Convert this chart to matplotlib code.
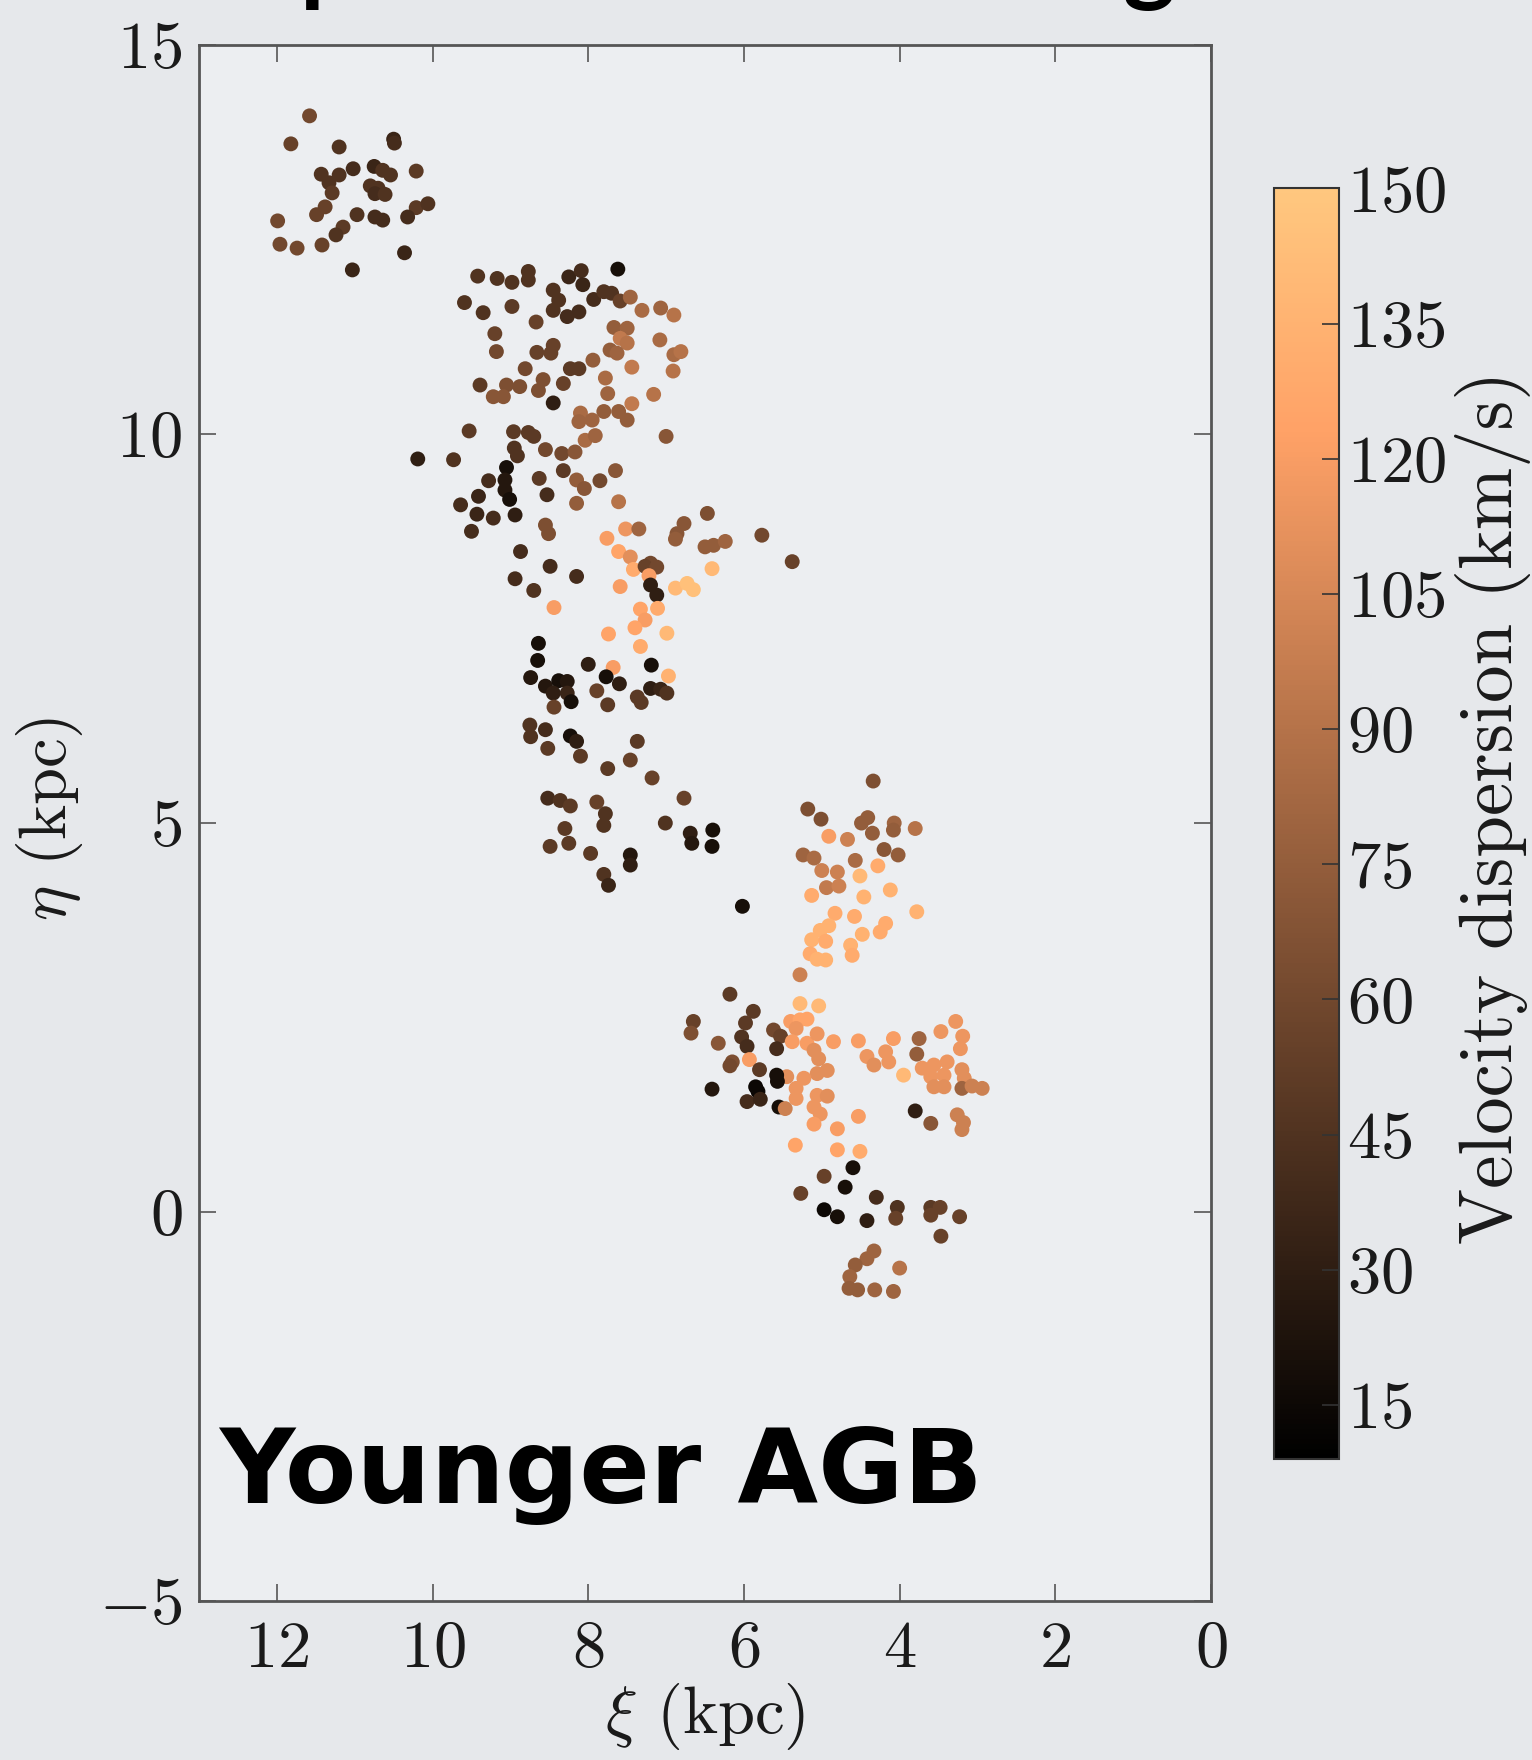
#!/usr/bin/env python
#
# Velocity dispersion map of the younger AGB population

import matplotlib
matplotlib.use('Agg')
import matplotlib.pyplot as plt
import numpy as np

# (xi, eta, sigma), one list per clump
clump_top = [
    (11.58, 14.09, 60), (11.82, 13.73, 55), (11.20, 13.69, 45), (10.50, 13.79, 35),
    (10.49, 13.74, 40), (10.21, 13.38, 50), (11.02, 13.41, 40), (11.43, 13.34, 45),
    (11.20, 13.33, 45), (11.33, 13.23, 45), (11.29, 13.10, 50), (10.75, 13.44, 35),
    (10.64, 13.39, 45), (10.54, 13.33, 45), (10.80, 13.19, 45), (10.70, 13.16, 45),
    (10.74, 13.09, 40), (10.61, 13.08, 45), (11.38, 12.92, 55), (11.49, 12.82, 55),
    (10.97, 12.82, 45), (10.74, 12.79, 40), (10.64, 12.75, 40), (10.21, 12.91, 50),
    (10.06, 12.96, 45), (10.32, 12.79, 40), (11.99, 12.74, 60), (11.15, 12.66, 50),
    (11.24, 12.56, 45), (11.96, 12.44, 60), (11.74, 12.39, 60), (11.42, 12.43, 55),
    (10.36, 12.33, 35), (11.03, 12.11, 35),
]

clump_upper = [
    (9.42, 12.03, 45), (9.17, 12.00, 45), (8.98, 11.95, 45), (8.77, 12.09, 45),
    (8.77, 11.98, 45), (8.25, 12.02, 35), (8.09, 12.10, 40), (7.62, 12.12, 20),
    (8.07, 11.92, 35), (8.45, 11.85, 45), (8.38, 11.72, 45), (8.45, 11.59, 45),
    (8.27, 11.51, 40), (8.12, 11.57, 40), (7.93, 11.73, 40), (7.80, 11.83, 45),
    (7.70, 11.81, 45), (7.59, 11.71, 55), (7.46, 11.76, 80), (7.31, 11.59, 85),
    (7.07, 11.62, 80), (6.90, 11.53, 90), (9.59, 11.69, 45), (9.35, 11.56, 45),
    (8.98, 11.64, 50), (8.67, 11.44, 55), (9.20, 11.29, 55), (9.18, 11.06, 60),
    (8.66, 11.05, 55), (8.45, 11.14, 55), (8.48, 11.04, 55), (7.67, 11.37, 75),
    (7.50, 11.36, 80), (7.59, 11.23, 95), (7.50, 11.17, 90), (7.72, 11.08, 75),
    (7.63, 11.04, 80), (7.08, 11.21, 85), (6.90, 11.02, 85), (6.81, 11.06, 90),
    (6.91, 10.81, 90), (7.94, 10.95, 75), (7.44, 10.86, 95), (8.81, 10.84, 60),
    (8.23, 10.84, 50), (8.12, 10.84, 50), (9.39, 10.63, 50), (9.05, 10.63, 65),
    (8.88, 10.61, 65), (9.22, 10.48, 70), (9.09, 10.48, 70), (8.58, 10.70, 65),
    (8.64, 10.56, 65), (8.32, 10.65, 55), (7.78, 10.72, 85), (7.75, 10.52, 80),
    (7.16, 10.51, 90), (7.44, 10.39, 95), (8.45, 10.40, 30), (8.10, 10.27, 85),
    (8.12, 10.16, 80), (7.95, 10.18, 80), (7.80, 10.29, 75), (7.61, 10.29, 75),
    (7.50, 10.18, 75), (9.53, 10.04, 50), (8.96, 10.03, 50), (8.77, 10.02, 50),
    (8.70, 9.97, 50), (8.04, 9.92, 85), (7.91, 9.98, 80), (7.00, 9.97, 70),
    (9.73, 9.67, 45), (10.19, 9.68, 30), (8.95, 9.82, 45), (8.91, 9.72, 45),
    (8.55, 9.80, 60), (8.34, 9.75, 60), (8.17, 9.77, 70), (9.05, 9.57, 20),
    (9.28, 9.40, 40), (9.07, 9.41, 25), (9.07, 9.28, 25), (9.01, 9.16, 20),
    (9.41, 9.20, 35), (9.64, 9.09, 40), (9.43, 8.97, 35), (9.22, 8.92, 40),
    (8.94, 8.96, 30), (9.50, 8.75, 40), (8.63, 9.43, 50), (8.32, 9.53, 50),
    (8.53, 9.22, 40), (8.15, 9.41, 75), (8.05, 9.30, 70), (7.85, 9.40, 60),
    (7.65, 9.53, 70), (8.15, 9.11, 75), (7.61, 9.13, 90), (8.55, 8.83, 65),
    (8.51, 8.72, 65), (8.87, 8.49, 40), (6.47, 8.98, 65), (6.77, 8.85, 70),
    (6.86, 8.72, 70), (6.88, 8.65, 75), (6.50, 8.55, 75), (6.39, 8.57, 75),
    (6.24, 8.62, 80), (5.77, 8.70, 60), (5.38, 8.36, 55), (7.76, 8.66, 120),
    (7.52, 8.78, 115), (7.35, 8.78, 80), (7.61, 8.49, 125), (7.46, 8.42, 110),
    (7.20, 8.34, 60), (6.41, 8.27, 140),
]

clump_middle = [
    (8.94, 8.14, 40), (8.70, 7.99, 45), (8.15, 8.17, 40), (8.49, 8.30, 40),
    (7.59, 8.04, 120), (7.42, 8.26, 130), (7.27, 8.30, 55), (7.12, 8.29, 60),
    (7.22, 8.18, 120), (7.20, 8.06, 30), (7.12, 7.93, 30), (6.88, 8.02, 140),
    (6.73, 8.08, 145), (6.65, 8.00, 145), (8.44, 7.77, 120), (7.33, 7.75, 125),
    (7.11, 7.76, 130), (7.27, 7.61, 120), (7.40, 7.51, 125), (7.74, 7.43, 125),
    (6.99, 7.44, 140), (7.33, 7.27, 130), (8.64, 7.31, 20), (8.65, 7.09, 20),
    (8.00, 7.04, 30), (7.68, 7.00, 120), (7.19, 7.03, 20), (6.97, 6.89, 135),
    (8.74, 6.87, 25), (8.55, 6.76, 25), (8.38, 6.83, 20), (8.27, 6.82, 25),
    (8.45, 6.67, 30), (8.27, 6.67, 35), (8.22, 6.56, 20), (8.44, 6.49, 55),
    (7.77, 6.88, 20), (7.60, 6.79, 30), (7.89, 6.70, 55), (7.75, 6.52, 50),
    (7.37, 6.62, 50), (7.32, 6.55, 50), (7.20, 6.73, 30), (7.07, 6.72, 35),
    (6.99, 6.67, 45), (8.75, 6.26, 45), (8.74, 6.11, 45), (8.55, 6.20, 40),
    (8.23, 6.12, 20), (8.15, 6.05, 30), (8.52, 5.96, 50), (8.10, 5.86, 50),
    (7.37, 6.05, 50), (7.75, 5.70, 50), (7.46, 5.81, 55), (7.18, 5.58, 55),
    (8.52, 5.32, 40), (8.36, 5.29, 45), (8.23, 5.22, 50), (7.89, 5.27, 55),
    (6.77, 5.32, 55), (7.78, 5.12, 45), (7.80, 4.97, 45), (8.49, 4.70, 50),
    (8.25, 4.74, 50), (8.30, 4.93, 50), (7.97, 4.61, 50), (7.46, 4.59, 25),
    (7.46, 4.46, 30), (7.80, 4.34, 45), (7.74, 4.20, 35), (7.01, 5.00, 45),
    (6.69, 4.87, 30), (6.67, 4.74, 25), (6.40, 4.91, 20), (6.41, 4.70, 20),
    (6.02, 3.93, 20),
]

clump_lower_north = [
    (4.34, 5.54, 65), (5.18, 5.18, 65), (5.01, 5.05, 65), (4.91, 4.83, 120),
    (4.67, 4.79, 100), (4.49, 5.00, 75), (4.41, 5.07, 75), (4.35, 4.87, 75),
    (4.07, 5.00, 80), (4.08, 4.91, 75), (3.80, 4.93, 90), (4.20, 4.66, 70),
    (4.02, 4.59, 75), (5.24, 4.59, 80), (5.10, 4.55, 85), (5.00, 4.39, 100),
    (4.80, 4.37, 100), (4.57, 4.52, 85), (4.28, 4.45, 130), (4.51, 4.32, 140),
    (4.94, 4.17, 95), (4.78, 4.19, 100), (5.13, 4.07, 130), (4.46, 4.05, 135),
    (4.12, 4.14, 135), (3.78, 3.86, 135), (4.83, 3.84, 130), (4.58, 3.80, 130),
    (4.18, 3.71, 130), (4.25, 3.60, 130), (4.48, 3.57, 135), (5.02, 3.62, 135),
    (4.91, 3.68, 135), (5.13, 3.50, 135), (4.95, 3.48, 130), (5.15, 3.32, 130),
    (4.63, 3.43, 135), (4.61, 3.30, 130), (5.06, 3.25, 135), (4.95, 3.24, 135),
    (5.28, 3.05, 100),
]

clump_lower_south = [
    (6.18, 2.80, 50), (5.28, 2.68, 140), (5.04, 2.65, 140), (5.88, 2.58, 50),
    (6.65, 2.45, 55), (6.68, 2.30, 65), (5.98, 2.43, 50), (6.03, 2.25, 45),
    (5.96, 2.13, 40), (6.33, 2.17, 70), (5.62, 2.34, 60), (5.53, 2.26, 55),
    (5.58, 2.10, 40), (5.40, 2.45, 120), (5.28, 2.47, 125), (5.19, 2.48, 125),
    (5.33, 2.36, 115), (5.38, 2.19, 120), (5.19, 2.17, 120), (5.06, 2.29, 115),
    (4.85, 2.19, 120), (5.10, 2.08, 110), (5.04, 1.97, 110), (4.93, 1.82, 110),
    (5.06, 1.78, 110), (5.23, 1.72, 115), (5.45, 1.74, 110), (5.33, 1.59, 115),
    (5.33, 1.46, 115), (5.06, 1.50, 115), (4.93, 1.49, 110), (5.10, 1.35, 115),
    (5.02, 1.26, 115), (5.10, 1.13, 120), (4.80, 1.07, 120), (4.53, 1.23, 120),
    (5.34, 0.86, 125), (4.80, 0.80, 125), (4.51, 0.78, 130), (5.93, 1.96, 120),
    (6.15, 1.93, 65), (6.18, 1.88, 60), (5.80, 1.83, 50), (5.58, 1.76, 20),
    (5.57, 1.68, 20), (6.41, 1.58, 25), (5.85, 1.61, 15), (5.82, 1.55, 15),
    (5.96, 1.42, 40), (5.79, 1.45, 35), (5.55, 1.35, 20), (5.47, 1.33, 100),
    (4.53, 2.20, 120), (4.08, 2.23, 120), (4.42, 2.00, 115), (4.33, 1.89, 110),
    (4.18, 2.06, 115), (4.14, 1.93, 115), (3.95, 1.76, 140), (3.75, 2.23, 80),
    (3.78, 2.03, 75), (3.47, 2.32, 115), (3.28, 2.45, 115), (3.19, 2.26, 115),
    (3.22, 2.10, 115), (3.71, 1.85, 115), (3.56, 1.89, 115), (3.39, 1.93, 115),
    (3.60, 1.74, 115), (3.43, 1.76, 115), (3.56, 1.61, 110), (3.43, 1.61, 110),
    (3.20, 1.83, 110), (3.17, 1.72, 110), (3.20, 1.59, 80), (3.07, 1.62, 100),
    (2.94, 1.59, 100), (3.80, 1.30, 30), (3.60, 1.14, 70), (3.26, 1.25, 100),
    (3.18, 1.15, 100), (3.20, 1.06, 100),
]

clump_tail = [
    (4.60, 0.57, 20), (4.97, 0.46, 55), (4.70, 0.32, 20), (5.27, 0.24, 55),
    (4.30, 0.19, 40), (4.97, 0.03, 15), (4.03, 0.06, 45), (3.60, 0.06, 50),
    (3.48, 0.06, 55), (4.80, -0.06, 20), (4.42, -0.11, 30), (4.05, -0.08, 55),
    (3.60, -0.04, 55), (3.23, -0.06, 55), (3.47, -0.31, 55), (4.33, -0.50, 80),
    (4.42, -0.60, 80), (4.57, -0.68, 75), (4.64, -0.83, 80), (4.65, -0.98, 75),
    (4.54, -1.00, 75), (4.32, -1.00, 80), (4.08, -1.02, 80), (4.00, -0.72, 90),
]

cbar_ticks = [15, 30, 45, 60, 75, 90, 105, 120, 135, 150]
xi_ticks = [12, 10, 8, 6, 4, 2, 0]
eta_ticks = [-5, 0, 5, 10, 15]
sigma_min, sigma_max = 9, 150

plt.rcParams['font.family'] = 'serif'
plt.rcParams['font.serif'] = ['cmr10', 'DejaVu Serif']
plt.rcParams['mathtext.fontset'] = 'cm'
plt.rcParams['axes.formatter.use_mathtext'] = True
plt.rcParams['axes.unicode_minus'] = True

bg = '#e6e8eb'
fig = plt.figure(figsize=(15.32, 17.6), dpi=100, facecolor=bg)
ax = fig.add_axes([0.1299, 0.0903, 0.6606, 0.8841])
ax.set_facecolor('#eceef1')

pts = np.array(clump_top + clump_upper + clump_middle + clump_lower_north
               + clump_lower_south + clump_tail)
sc = ax.scatter(pts[:, 0], pts[:, 1], c=pts[:, 2], cmap='copper',
                vmin=sigma_min, vmax=sigma_max, s=115, edgecolors='none')

ax.set_xlim(13, 0)
ax.set_ylim(-5, 15)
ax.set_xticks(xi_ticks)
ax.set_yticks(eta_ticks)
ax.tick_params(direction='in', length=12, width=1.2, labelsize=48,
               top=True, right=True, colors='#555555', labelcolor='#1a1a1a')
ax.tick_params(axis='x', pad=14)
ax.tick_params(axis='y', pad=12)
for sp in ax.spines.values():
    sp.set_color('#555555')
    sp.set_linewidth(2)

fig.text(0.460, 0.0245, r'$\xi$ (kpc)', fontsize=48, ha='center', va='center',
         color='#1a1a1a')
fig.text(0.032, 0.535, r'$\eta$ (kpc)', fontsize=48, ha='center', va='center',
         rotation=90, color='#1a1a1a')

cax = fig.add_axes([0.8316, 0.171, 0.0424, 0.7219])
cb = fig.colorbar(sc, cax=cax, ticks=cbar_ticks)
cb.outline.set_edgecolor('#333333')
cb.outline.set_linewidth(1.5)
cax.tick_params(direction='in', length=12, width=1.2, labelsize=48, pad=6,
                colors='#333333', labelcolor='#1a1a1a')
fig.text(0.9745, 0.541, 'Velocity dispersion (km/s)', fontsize=54,
         ha='center', va='center', rotation=90, color='#1a1a1a')

fig.text(0.143, 0.146, 'Younger AGB', fontsize=75, fontweight='bold',
         family=['DejaVu Sans'], color='black', va='baseline')

# slide title above, cut off by the frame
fig.text(0.196, 1.004, 'p', fontsize=72, fontweight='bold',
         family=['Lato', 'DejaVu Sans'], color='black', va='baseline')
fig.text(0.733, 1.004, 'g', fontsize=72, fontweight='bold',
         family=['Lato', 'DejaVu Sans'], color='black', va='baseline')

fig.savefig('out.png', dpi=100, facecolor=bg)
